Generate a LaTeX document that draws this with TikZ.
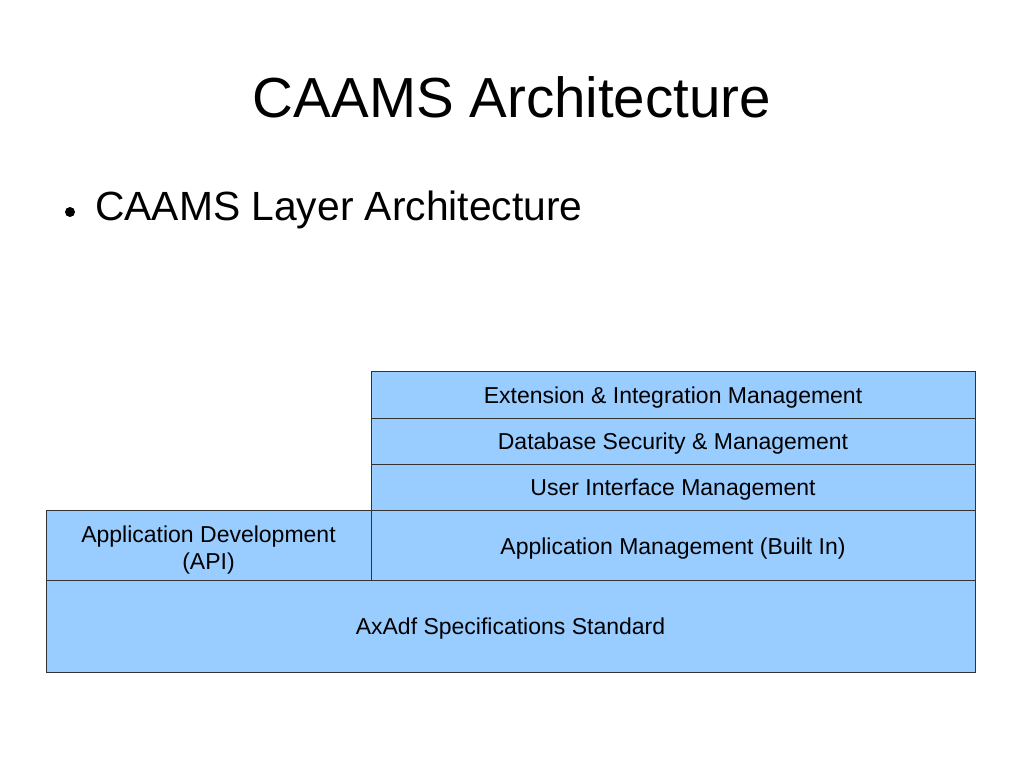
\documentclass[tikz,border=0pt]{standalone}
\usepackage{fontspec}
\setmainfont{Liberation Sans}
\definecolor{layerblue}{HTML}{99CCFF}
\definecolor{edge}{HTML}{333333}
\begin{document}
\begin{tikzpicture}[x=1pt,y=-1pt,
  layer/.style={draw=edge, line width=1pt, fill=layerblue, inner sep=0pt, outer sep=0pt,
    align=center, font=\fontsize{23}{26.7}\selectfont, text=black, text height=16.5pt, text depth=0pt},
  lbl/.style={inner sep=0pt, align=center, font=\fontsize{23}{26.7}\selectfont, text=black}]
\useasboundingbox (0,0) rectangle (1024,768);
\node[font=\fontsize{56.5}{60}\selectfont, anchor=base] (title) at (512,117) {CAAMS Architecture};
\node[fill=black, circle, inner sep=0pt, minimum size=10pt] (dot) at (70,212) {};
\node[font=\fontsize{40.8}{44}\selectfont, anchor=base west, inner sep=0pt] (bullet) at (95,220) {CAAMS Layer Architecture};
\node[layer, minimum width=604pt, minimum height=47pt] (ext) at (673,394.5) {};
\node[lbl, anchor=base] (extl) at (673,403.3) {Extension \& Integration Management};
\node[layer, minimum width=604pt, minimum height=46pt] (db) at (673,441) {};
\node[lbl, anchor=base] (dbl) at (673,449.3) {Database Security \& Management};
\node[layer, minimum width=604pt, minimum height=46pt] (ui) at (673,487) {};
\node[lbl, anchor=base] (uil) at (673,495.7) {User Interface Management};
\node[layer, minimum width=604pt, minimum height=70pt] (am) at (673,545) {};
\node[lbl, anchor=base] (aml) at (673,554) {Application Management (Built In)};
\node[layer, minimum width=325pt, minimum height=70pt] (ad) at (208.5,545) {};
\node[lbl, anchor=base] (adl) at (208.5,569) {Application Development\\(API)};
\node[layer, minimum width=929pt, minimum height=92pt] (ax) at (510.5,626) {};
\node[lbl, anchor=base] (axl) at (510.5,634) {AxAdf Specifications Standard};
\end{tikzpicture}
\end{document}
